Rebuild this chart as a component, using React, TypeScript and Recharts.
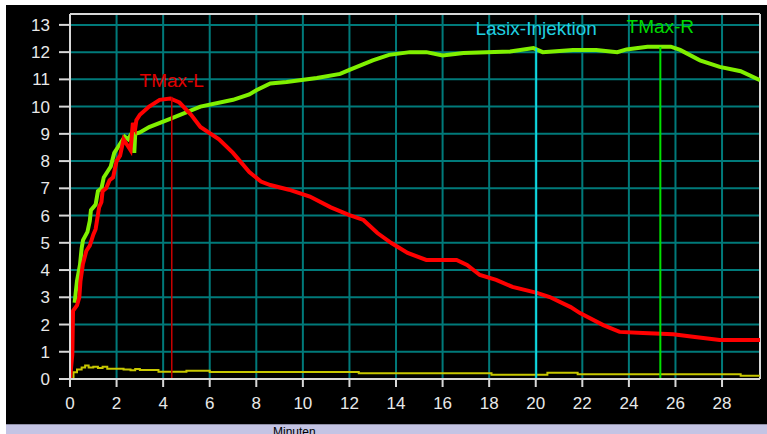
import { LineChart, Line, XAxis, YAxis, CartesianGrid, ReferenceLine } from "recharts";

// right kidney (green)
const rightTime = [0.2, 0.25, 0.3, 0.43, 0.5, 0.56, 0.75, 0.85, 0.9, 1.1, 1.2, 1.35, 1.45, 1.6, 1.75, 1.9, 2.05, 2.2, 2.35, 2.5, 2.6, 2.72, 2.76, 2.8, 3.0, 3.4, 4.3, 5.6, 7.0, 7.7, 8.0, 8.6, 9.3, 10.6, 11.6, 12.0, 13.0, 13.7, 14.6, 15.3, 16.0, 16.9, 18.9, 19.9, 20.3, 21.6, 22.6, 23.5, 23.9, 24.8, 25.8, 26.2, 27.05, 27.9, 28.8, 29.63];
const rightValue = [2.8, 3.2, 3.6, 4.2, 4.8, 5.1, 5.4, 5.8, 6.2, 6.4, 6.9, 7.0, 7.4, 7.6, 7.8, 8.3, 8.5, 8.7, 8.9, 8.8, 8.95, 8.9, 8.3, 9.0, 9.05, 9.25, 9.55, 10.0, 10.25, 10.45, 10.6, 10.85, 10.9, 11.05, 11.2, 11.35, 11.7, 11.9, 12.0, 12.0, 11.88, 11.97, 12.02, 12.15, 12.0, 12.08, 12.08, 12.0, 12.1, 12.2, 12.2, 12.08, 11.7, 11.46, 11.3, 10.97];

// left kidney (red)
const leftTime = [0.0, 0.1, 0.13, 0.3, 0.4, 0.45, 0.55, 0.7, 0.85, 1.0, 1.1, 1.25, 1.35, 1.4, 1.55, 1.7, 1.85, 2.0, 2.15, 2.3, 2.45, 2.6, 2.7, 2.8, 2.85, 3.0, 3.4, 3.85, 4.3, 4.7, 5.2, 5.6, 6.4, 7.0, 7.7, 8.2, 8.6, 9.4, 10.3, 11.2, 12.0, 12.6, 13.2, 13.8, 14.5, 15.3, 16.6, 17.05, 17.6, 18.3, 19.0, 20.05, 20.6, 21.5, 21.9, 22.9, 23.6, 24.6, 25.9, 26.75, 27.9, 29.63];
const leftValue = [0.0, 0.9, 2.5, 2.7, 3.0, 3.6, 4.2, 4.7, 4.9, 5.3, 5.5, 6.3, 6.5, 6.9, 7.0, 7.3, 7.4, 8.0, 8.2, 8.8, 8.6, 8.4, 9.4, 9.2, 9.5, 9.7, 10.0, 10.25, 10.3, 10.15, 9.7, 9.25, 8.8, 8.3, 7.6, 7.25, 7.12, 6.95, 6.7, 6.3, 6.02, 5.84, 5.36, 4.99, 4.63, 4.37, 4.37, 4.19, 3.82, 3.64, 3.38, 3.16, 3.01, 2.64, 2.42, 1.98, 1.73, 1.69, 1.64, 1.55, 1.43, 1.43];

// background (yellow)
const bgTime = [0.0, 0.1, 0.15, 0.3, 0.5, 0.65, 0.8, 1.0, 1.2, 1.4, 1.6, 2.0, 2.3, 2.6, 2.8, 3.0, 3.8, 5.0, 6.0, 12.4, 18.1, 20.5, 21.8, 28.8, 29.63];
const bgValue = [0.0, 0.0, 0.25, 0.35, 0.42, 0.5, 0.42, 0.45, 0.4, 0.45, 0.38, 0.38, 0.35, 0.32, 0.37, 0.33, 0.27, 0.3, 0.26, 0.21, 0.16, 0.23, 0.17, 0.12, 0.12];

const xTicks = [0, 2, 4, 6, 8, 10, 12, 14, 16, 18, 20, 22, 24, 26, 28];
const yTicks = [0, 1, 2, 3, 4, 5, 6, 7, 8, 9, 10, 11, 12, 13];

const markerNames = ["TMax-L", "Lasix-Injektion", "TMax-R"];
const markerTimes = [4.37, 20.02, 25.35];
const markerValues = [10.36, 12.15, 12.19];
const markerColors = ["#c80000", "#10d8e0", "#00e000"];
const labelColors = ["#e00000", "#20d0e0", "#00d800"];
const markerWidths = [1.5, 2, 2];
const labelOffsets = [10, 13, 14];

const X_MAX = 29.63;
const Y_MAX = 13.4;

const toRows = (t: number[], v: number[]) => t.map((x, i) => ({ t: x, v: v[i] }));

const rightData = toRows(rightTime, rightValue);
const leftData = toRows(leftTime, leftValue);
const bgData = toRows(bgTime, bgValue);

const font = "'Liberation Sans', Arial, sans-serif";

export default function App() {
  return (
    <div style={{ position: "absolute", left: 0, top: 0, width: 767, height: 434, background: "#fff", overflow: "hidden" }}>
      <div style={{ position: "absolute", left: 6, top: 5, width: 761, height: 419, background: "#000" }}>
        <LineChart width={761} height={419} margin={{ top: 9, right: 7, left: 0, bottom: 0 }}>
          <CartesianGrid stroke="#007a7a" strokeWidth={2} />
          <XAxis
            type="number"
            dataKey="t"
            domain={[0, X_MAX]}
            ticks={xTicks}
            allowDataOverflow
            height={45}
            tickSize={8}
            tickMargin={10}
            axisLine={{ stroke: "#d8d8d8", strokeWidth: 2 }}
            tickLine={{ stroke: "#d8d8d8", strokeWidth: 2 }}
            tick={{ fill: "#e8e8e8", fontSize: 17, fontFamily: font }}
          />
          <YAxis
            type="number"
            domain={[0, Y_MAX]}
            ticks={yTicks}
            allowDataOverflow
            width={64}
            tickSize={11}
            tickMargin={9}
            axisLine={{ stroke: "#d8d8d8", strokeWidth: 2 }}
            tickLine={{ stroke: "#d8d8d8", strokeWidth: 2 }}
            tick={{ fill: "#e8e8e8", fontSize: 17, fontFamily: font }}
          />
          <ReferenceLine y={Y_MAX} stroke="#d8d8d8" strokeWidth={2} />
          <ReferenceLine x={X_MAX} stroke="#d8d8d8" strokeWidth={2} />
          <Line data={bgData} dataKey="v" type="stepAfter" stroke="#c8c800" strokeWidth={2} dot={false} isAnimationActive={false} />
          <Line data={rightData} dataKey="v" type="linear" stroke="#80f000" strokeWidth={4} dot={false} isAnimationActive={false} />
          <Line data={leftData} dataKey="v" type="linear" stroke="#ff0000" strokeWidth={4} dot={false} isAnimationActive={false} />
          {markerNames.map((name, i) => (
            <ReferenceLine
              key={name}
              segment={[
                { x: markerTimes[i], y: 0 },
                { x: markerTimes[i], y: markerValues[i] },
              ]}
              stroke={markerColors[i]}
              strokeWidth={markerWidths[i]}
              label={{
                value: name,
                position: "top",
                offset: labelOffsets[i],
                fill: labelColors[i],
                fontSize: 19,
                fontFamily: font,
              }}
            />
          ))}
        </LineChart>
      </div>
      <div style={{ position: "absolute", left: 6, top: 424, width: 761, height: 10, background: "#c4c4e4", borderTop: "1px solid #9090a8", overflow: "hidden" }}>
        <span style={{ position: "absolute", left: 267, top: 0, fontSize: 12, lineHeight: "14px", fontFamily: font, color: "#000" }}>Minuten</span>
      </div>
    </div>
  );
}
